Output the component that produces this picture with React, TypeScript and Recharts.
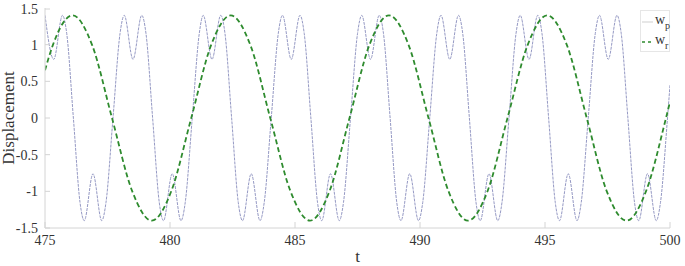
import { LineChart, Line, XAxis, YAxis } from 'recharts'

// w_p (peaks, dips, crossings)
const wpTime = [
  475.0, 475.35, 475.7, 475.87, 476.135, 476.4, 476.57, 476.92, 477.27, 477.44, 477.72, 478.0,
  478.17, 478.52, 478.87, 479.04, 479.305, 479.57, 479.74, 480.09, 480.44, 480.61, 480.89, 481.17,
  481.33, 481.68, 482.03, 482.2, 482.465, 482.73, 482.9, 483.25, 483.6, 483.77, 484.05, 484.33,
  484.5, 484.85, 485.2, 485.37, 485.635, 485.9, 486.07, 486.42, 486.77, 486.94, 487.22, 487.5,
  487.67, 488.02, 488.37, 488.54, 488.805, 489.07, 489.24, 489.59, 489.94, 490.11, 490.39, 490.67,
  490.84, 491.19, 491.54, 491.71, 491.975, 492.24, 492.41, 492.76, 493.11, 493.28, 493.56, 493.84,
  494.01, 494.36, 494.71, 494.88, 495.145, 495.41, 495.58, 495.93, 496.28, 496.45, 496.73, 497.01,
  497.18, 497.53, 497.88, 498.05, 498.315, 498.58, 498.75, 499.1, 499.45, 499.62, 499.9, 500.0,
]
const wpValue = [
  1.4, 0.8, 1.4, 1.15, 0, -1.15, -1.4, -0.76, -1.4, -1.15, 0, 1.15,
  1.4, 0.8, 1.4, 1.15, 0, -1.15, -1.4, -0.76, -1.4, -1.15, 0, 1.15,
  1.4, 0.8, 1.4, 1.15, 0, -1.15, -1.4, -0.76, -1.4, -1.15, 0, 1.15,
  1.4, 0.8, 1.4, 1.15, 0, -1.15, -1.4, -0.76, -1.4, -1.15, 0, 1.15,
  1.4, 0.8, 1.4, 1.15, 0, -1.15, -1.4, -0.76, -1.4, -1.15, 0, 1.15,
  1.4, 0.8, 1.4, 1.15, 0, -1.15, -1.4, -0.76, -1.4, -1.15, 0, 1.15,
  1.4, 0.8, 1.4, 1.15, 0, -1.15, -1.4, -0.76, -1.4, -1.15, 0, 1.15,
  1.4, 0.8, 1.4, 1.15, 0, -1.15, -1.4, -0.76, -1.4, -1.15, 0, 0.45,
]

// w_r: slow wave
const wrTime = [
  475.0, 475.31, 476.1, 476.89, 477.68, 478.48, 479.27, 480.06, 480.85, 481.64, 482.43, 483.22,
  484.01, 484.81, 485.6, 486.39, 487.18, 487.97, 488.76, 489.55, 490.34, 491.13, 491.92, 492.71,
  493.5, 494.3, 495.09, 495.88, 496.67, 497.46, 498.26, 499.05, 499.84, 500.0,
]
const wrValue = [
  0.65, 0.99, 1.4, 0.99, 0, -0.99, -1.4, -0.99, 0, 0.99, 1.4, 0.99,
  0, -0.99, -1.4, -0.99, 0, 0.99, 1.4, 0.99, 0, -0.99, -1.4, -0.99,
  0, 0.99, 1.4, 0.99, 0, -0.99, -1.4, -0.99, 0, 0.22,
]

const xTicks = [475, 480, 485, 490, 495, 500]
const yTicks = [-1.5, -1, -0.5, 0, 0.5, 1, 1.5]

const wpData = wpTime.map((t, i) => ({ t, v: wpValue[i] }))
const wrData = wrTime.map((t, i) => ({ t, v: wrValue[i] }))

const FONT = '"Liberation Serif", "Times New Roman", serif'
const FRAME = '#d4d4d4'
const TEXT = '#333'

const XTick = (props: any) => {
  const { x, y, payload } = props
  return (
    <g>
      <line x1={x} y1={y} x2={x} y2={y - 6} stroke={FRAME} />
      <text x={x} y={y + 17} textAnchor="middle" style={{ fontFamily: FONT, fontSize: 14, fill: TEXT }}>
        {payload.value}
      </text>
    </g>
  )
}

const YTick = (props: any) => {
  const { x, y, payload } = props
  return (
    <g>
      <line x1={x} y1={y} x2={x + 5} y2={y} stroke={FRAME} />
      <text x={x - 7} y={y + 5} textAnchor="end" style={{ fontFamily: FONT, fontSize: 14, fill: TEXT }}>
        {payload.value}
      </text>
    </g>
  )
}

const LegendBox = () => (
  <div
    style={{
      position: 'absolute',
      left: 640,
      top: 10,
      width: 30,
      height: 42,
      background: 'white',
      border: '1px solid #e6e6e6',
      boxSizing: 'border-box',
    }}
  >
    <svg width={30} height={42} style={{ position: 'absolute', left: 0, top: 0, overflow: 'visible' }}>
      <line x1={1} y1={11} x2={12} y2={11} stroke="#cfcfcf" />
      <text x={14} y={13} style={{ fontFamily: FONT, fontSize: 14, fill: TEXT }}>w</text>
      <text x={24} y={18} style={{ fontFamily: FONT, fontSize: 10, fill: TEXT }}>p</text>
      <line x1={1} y1={31} x2={12} y2={31} stroke="#2e8b2e" strokeWidth={1.6} strokeDasharray="3 3" />
      <text x={14} y={33} style={{ fontFamily: FONT, fontSize: 14, fill: TEXT }}>w</text>
      <text x={24} y={38} style={{ fontFamily: FONT, fontSize: 10, fill: TEXT }}>r</text>
    </svg>
  </div>
)

export default function App() {
  return (
    <div style={{ position: 'absolute', left: 0, top: 0, width: 685, height: 266, background: 'white' }}>
      <LineChart width={685} height={266} margin={{ top: 8, right: 15, left: 0, bottom: 0 }}>
        <XAxis
          dataKey="t"
          type="number"
          domain={[475, 500]}
          ticks={xTicks}
          allowDataOverflow
          height={38}
          stroke={FRAME}
          tickSize={0}
          tickMargin={0}
          tick={<XTick />}
          label={{ value: 't', position: 'insideBottom', offset: 4, fontFamily: FONT, fontSize: 17, fill: TEXT }}
        />
        <XAxis
          xAxisId="top"
          orientation="top"
          dataKey="t"
          type="number"
          domain={[475, 500]}
          ticks={xTicks}
          height={0}
          stroke="#ececec"
          tick={false}
        />
        <YAxis
          type="number"
          domain={[-1.5, 1.5]}
          ticks={yTicks}
          allowDataOverflow
          width={45}
          stroke={FRAME}
          tickSize={0}
          tickMargin={0}
          tick={<YTick />}
          label={{
            value: 'Displacement',
            angle: -90,
            position: 'insideLeft',
            offset: 8,
            style: { textAnchor: 'middle' },
            fontFamily: FONT,
            fontSize: 17,
            fill: TEXT,
          }}
        />
        <YAxis yAxisId="right" orientation="right" width={0} stroke="#ececec" tick={false} domain={[-1.5, 1.5]} />
        <Line
          data={wpData}
          dataKey="v"
          type="monotone"
          stroke="#9599c4"
          strokeWidth={1}
          strokeDasharray="3 1"
          dot={false}
          isAnimationActive={false}
        />
        <Line
          data={wrData}
          dataKey="v"
          type="monotone"
          stroke="#2e8b2e"
          strokeWidth={1.8}
          strokeDasharray="5 3"
          dot={false}
          isAnimationActive={false}
        />
      </LineChart>
      <LegendBox />
    </div>
  )
}
